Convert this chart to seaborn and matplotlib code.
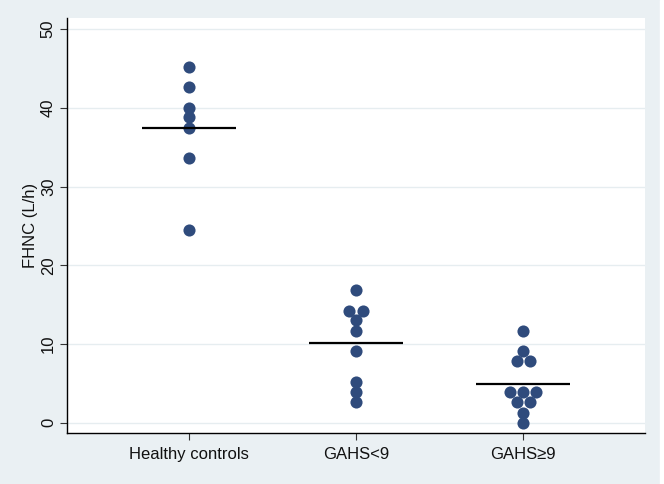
import pandas as pd
import numpy as np
import matplotlib
matplotlib.use('Agg')
import matplotlib.pyplot as plt
import matplotlib.patches as mpatches
import seaborn as sns

# Datos (FHNC en L/h)
grupos = ['Healthy controls', 'GAHS<9', 'GAHS≥9']
controles = [45.2, 42.6, 40.0, 38.8, 37.4, 33.6, 24.5]
gahs_bajo = [16.8, 14.2, 14.2, 13.0, 11.7, 9.1, 5.2, 3.9, 2.6]
gahs_alto = [11.6, 9.1, 7.8, 7.8, 3.9, 3.9, 3.9, 2.6, 2.6, 1.3, 0.0]
y_ticks = [0, 10, 20, 30, 40, 50]

df = pd.DataFrame({
    'Grupo': [grupos[0]] * len(controles) + [grupos[1]] * len(gahs_bajo) + [grupos[2]] * len(gahs_alto),
    'FHNC': controles + gahs_bajo + gahs_alto,
})

# Posicion horizontal tipo "dotplot": valores repetidos centrados lado a lado
sep = 0.078
df['pos'] = df['Grupo'].map({g: i for i, g in enumerate(grupos)}).astype(float)
k = df.groupby(['Grupo', 'FHNC']).cumcount()
n = df.groupby(['Grupo', 'FHNC'])['FHNC'].transform('size')
df['x'] = df['pos'] + (k - (n - 1) / 2) * sep

sns.set_theme(style="white")
plt.rcParams['font.family'] = ['Liberation Sans', 'DejaVu Sans']

fondo = '#eaf0f3'
fig = plt.figure(figsize=(6.64, 4.84), dpi=100, facecolor=fondo)
# franja blanca en el borde derecho
fig.patches.append(mpatches.Rectangle((660 / 664, 0), 4 / 664, 1, transform=fig.transFigure,
                                      color='white', zorder=0))
ax = fig.add_axes([67 / 664, 51 / 484, 578 / 664, 415 / 484])
ax.set_facecolor('white')

sns.scatterplot(data=df, x='x', y='FHNC', color='#2f4b7c', s=76, linewidth=0,
                ax=ax, zorder=3, legend=False)

# linea de la media por grupo
medias = df.groupby('Grupo')['FHNC'].mean().reindex(grupos)
for i, m in enumerate(medias):
    ax.hlines(m, i - 0.28, i + 0.28, color='black', linewidth=1.6, zorder=4)

ax.set_xlim(-0.73, 2.73)
ax.set_ylim(-1.3, 51.4)
ax.set_xticks(range(len(grupos)))
ax.set_xticklabels(grupos)
ax.set_yticks(y_ticks)
ax.grid(axis='y', color='#e6edf0', linewidth=1)
ax.set_axisbelow(True)

for s in ['top', 'right']:
    ax.spines[s].set_visible(False)
for s in ['left', 'bottom']:
    ax.spines[s].set_color('black')
    ax.spines[s].set_linewidth(1)

ax.tick_params(axis='both', direction='out', length=5, width=0.8, color='#333333',
               labelsize=12, labelcolor='#111111', left=True, bottom=True)
ax.tick_params(axis='y', pad=3)
ax.tick_params(axis='x', pad=5)
for lab in ax.get_yticklabels():
    lab.set_rotation(90)
    lab.set_va('center')

ax.set_xlabel('')
ax.set_ylabel('FHNC (L/h)', fontsize=12, color='#111111')
ax.yaxis.set_label_coords(-0.050, 0.5)

plt.savefig('out.png', dpi=100, facecolor=fondo)
plt.close()
